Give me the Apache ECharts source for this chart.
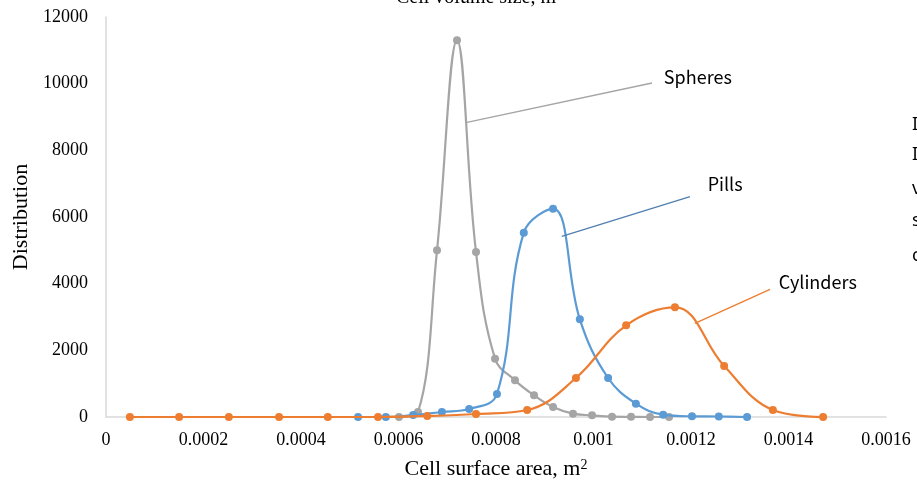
<!DOCTYPE html>
<html>
<head>
<meta charset="utf-8">
<script src="https://cdn.jsdelivr.net/npm/echarts@6/dist/echarts.min.js"></script>
<style>
  html, body { margin: 0; padding: 0; background: #fff; }
  #chart { width: 917px; height: 485px; }
</style>
</head>
<body>
<div id="chart"></div>
<script>
  // cell surface area (m2) and distribution
  var spheresX = [0.000601, 0.00064, 0.000679, 0.00072, 0.000759, 0.000798, 0.000839, 0.000878,
    0.000917, 0.000958, 0.000997, 0.001038, 0.001077, 0.001116, 0.001155];
  var spheresY = [0, 150, 5000, 11300, 4950, 1750, 1100, 650, 300, 100, 50, 10, 5, 0, 0];

  var pillsX = [0.000517, 0.000574, 0.00063, 0.000689, 0.000745, 0.000802, 0.000857, 0.000917,
    0.000972, 0.00103, 0.001087, 0.001143, 0.001202, 0.001257, 0.001315];
  var pillsY = [0, 0, 60, 150, 240, 690, 5530, 6250, 2930, 1170, 400, 70, 20, 15, 0];

  var cylX = [0.000049, 0.00015, 0.000252, 0.000355, 0.000455, 0.000558, 0.000659, 0.000759,
    0.000864, 0.000964, 0.001067, 0.001167, 0.001268, 0.001368, 0.001471];
  var cylY = [0, 0, 0, 0, 0, 0, 30, 90, 210, 1170, 2750, 3290, 1530, 210, 0];

  // callout text and leader lines, in data units
  var calloutNames = ['Spheres', 'Pills', 'Cylinders'];
  var calloutText = [[0.001214, 10200], [0.00127, 7000], [0.00146, 4040]];
  var calloutLine = [
    [[0.000738, 8830], [0.00112, 10020]],
    [[0.000935, 5420], [0.001198, 6610]],
    [[0.001208, 2810], [0.001362, 3830]]
  ];

  var colors = ['#A5A5A5', '#5B9BD5', '#ED7D31'];
  var leaderColors = ['#A5A5A5', '#4F7FB0', '#ED7D31'];

  function zip(xs, ys) {
    return xs.map(function (x, i) { return [x, ys[i]]; });
  }

  function makeSeries(idx, xs, ys) {
    return {
      type: 'line',
      name: calloutNames[idx],
      data: zip(xs, ys),
      smooth: 0.4,
      symbol: 'circle',
      symbolSize: 8,
      z: idx === 1 ? 3 : (idx === 2 ? 4 : 2),
      lineStyle: { color: colors[idx], width: 2.2 },
      itemStyle: { color: colors[idx] },
      markLine: {
        silent: true,
        symbol: 'none',
        label: { show: false },
        lineStyle: { color: leaderColors[idx], width: 1.3, type: 'solid' },
        data: [[{ coord: calloutLine[idx][0] }, { coord: calloutLine[idx][1] }]]
      },
      markPoint: {
        silent: true,
        symbol: 'circle',
        symbolSize: 1,
        itemStyle: { color: 'rgba(0,0,0,0)' },
        label: {
          show: true,
          position: 'inside',
          color: '#000',
          fontSize: 18,
          fontFamily: 'Noto Sans CJK KR',
          formatter: calloutNames[idx]
        },
        data: [{ coord: calloutText[idx] }]
      }
    };
  }

  var serif = 'Liberation Serif';
  var myChart = echarts.init(document.getElementById('chart'));
  var option = {
    animation: false,
    grid: { left: 106, right: 31, top: 17, bottom: 60, containLabel: false },
    xAxis: {
      type: 'value',
      min: 0,
      max: 0.0016,
      interval: 0.0002,
      name: '{n|Cell surface area, m}{s|2}',
      nameLocation: 'middle',
      nameGap: 41,
      nameTextStyle: {
        color: '#000', fontSize: 22, fontFamily: serif,
        rich: {
          n: { fontSize: 22, fontFamily: serif, color: '#000' },
          s: { fontSize: 14, fontFamily: serif, color: '#000', verticalAlign: 'top', padding: [0, 0, 8, 0] }
        }
      },
      splitLine: { show: false },
      axisTick: { show: false },
      axisLine: { lineStyle: { color: '#D9D9D9', width: 1.5 } },
      axisLabel: { color: '#000', fontSize: 18, fontFamily: serif, margin: 14 }
    },
    yAxis: {
      type: 'value',
      min: 0,
      max: 12000,
      interval: 2000,
      name: 'Distribution',
      nameLocation: 'middle',
      nameGap: 73,
      nameTextStyle: { color: '#000', fontSize: 22, fontFamily: serif },
      splitLine: { show: false },
      axisTick: { show: false },
      axisLine: { show: true, lineStyle: { color: '#D9D9D9', width: 1.5 } },
      axisLabel: {
        color: '#000', fontSize: 18, fontFamily: serif, margin: 18,
        formatter: function (v) { return String(v); }
      }
    },
    graphic: [
      { type: 'text', left: 396, top: -12,
        style: { text: 'Cell volume size, m³', font: '20px "Liberation Serif"', fill: '#000' } },
      { type: 'text', left: 912, top: 116, style: { text: 'I', font: '18px "Noto Sans"', fill: '#000' } },
      { type: 'text', left: 912, top: 146, style: { text: 'I', font: '18px "Noto Sans"', fill: '#000' } },
      { type: 'text', left: 912, top: 180, style: { text: 'v', font: '18px "Noto Sans"', fill: '#000' } },
      { type: 'text', left: 912, top: 212, style: { text: 's', font: '18px "Noto Sans"', fill: '#000' } },
      { type: 'text', left: 912, top: 247, style: { text: 'c', font: '18px "Noto Sans"', fill: '#000' } }
    ],
    series: [
      makeSeries(0, spheresX, spheresY),
      makeSeries(1, pillsX, pillsY),
      makeSeries(2, cylX, cylY)
    ]
  };
  myChart.setOption(option);
</script>
</body>
</html>
